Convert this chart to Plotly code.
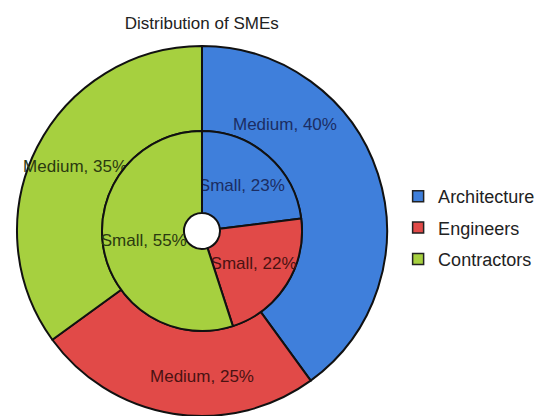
import plotly.graph_objects as go

categories = ["Architecture", "Engineers", "Contractors"]
medium_values = [40, 25, 35]
small_values = [23, 22, 55]
colors = ["#3f7fdb", "#e14a48", "#a6d03f"]
text_colors = ["#1b2d63", "#4a1212", "#2b3a10"]

medium_text = [f"Medium, {v}%" for v in medium_values]
small_text = [f"Small, {v}%" for v in small_values]

FONT = "Liberation Sans, Arial"

fig = go.Figure()

# Outer ring: the Architecture label was moved by hand in the original,
# so that one is drawn as an annotation instead of inside text.
fig.add_trace(go.Pie(
    labels=categories, values=medium_values, text=medium_text,
    texttemplate="%{text}", textposition=["none", "inside", "inside"],
    insidetextorientation="horizontal",
    textfont=dict(color=text_colors, size=17, family=FONT),
    hole=0.54, sort=False, direction="clockwise", rotation=0,
    marker=dict(colors=colors, line=dict(color="#111111", width=2)),
    domain=dict(x=[0.0316, 0.7193], y=[0.0, 0.8894]),
    showlegend=False, hoverinfo="label+value",
))

fig.add_trace(go.Pie(
    labels=categories, values=small_values, text=small_text,
    texttemplate="%{text}", textposition="inside",
    insidetextorientation="horizontal",
    textfont=dict(color=text_colors, size=17, family=FONT),
    hole=0.18, sort=False, direction="clockwise", rotation=0,
    marker=dict(colors=colors, line=dict(color="#111111", width=2)),
    domain=dict(x=[0.1896, 0.5613], y=[0.2043, 0.6851]),
    showlegend=False, hoverinfo="label+value",
))

for name, c in zip(categories, colors):
    fig.add_trace(go.Scatter(
        x=[None], y=[None], mode="markers", name=name, legendgroup=name,
        marker=dict(symbol="square", size=11, color=c, line=dict(color="#222222", width=1.5)),
    ))

fig.add_annotation(
    text=medium_text[0], xref="paper", yref="paper", x=0.530, y=0.700,
    xanchor="center", yanchor="middle", showarrow=False,
    font=dict(size=17, color=text_colors[0], family=FONT),
)

fig.update_layout(
    width=538, height=416,
    margin=dict(l=0, r=0, t=0, b=0, autoexpand=False),
    paper_bgcolor="white", plot_bgcolor="white",
    font=dict(family=FONT, color="#222222"),
    uniformtext=dict(minsize=17, mode="show"),
    title=dict(text="Distribution of SMEs", x=0.375, xanchor="center",
               y=0.945, yanchor="middle", xref="paper", yref="paper",
               font=dict(size=17, color="#222222")),
    xaxis=dict(visible=False), yaxis=dict(visible=False),
    legend=dict(x=0.74, xanchor="left", y=0.452, yanchor="middle",
                font=dict(size=18, color="#222222"), tracegroupgap=5,
                itemwidth=30, bgcolor="rgba(0,0,0,0)"),
)

fig.write_html("out.html")
